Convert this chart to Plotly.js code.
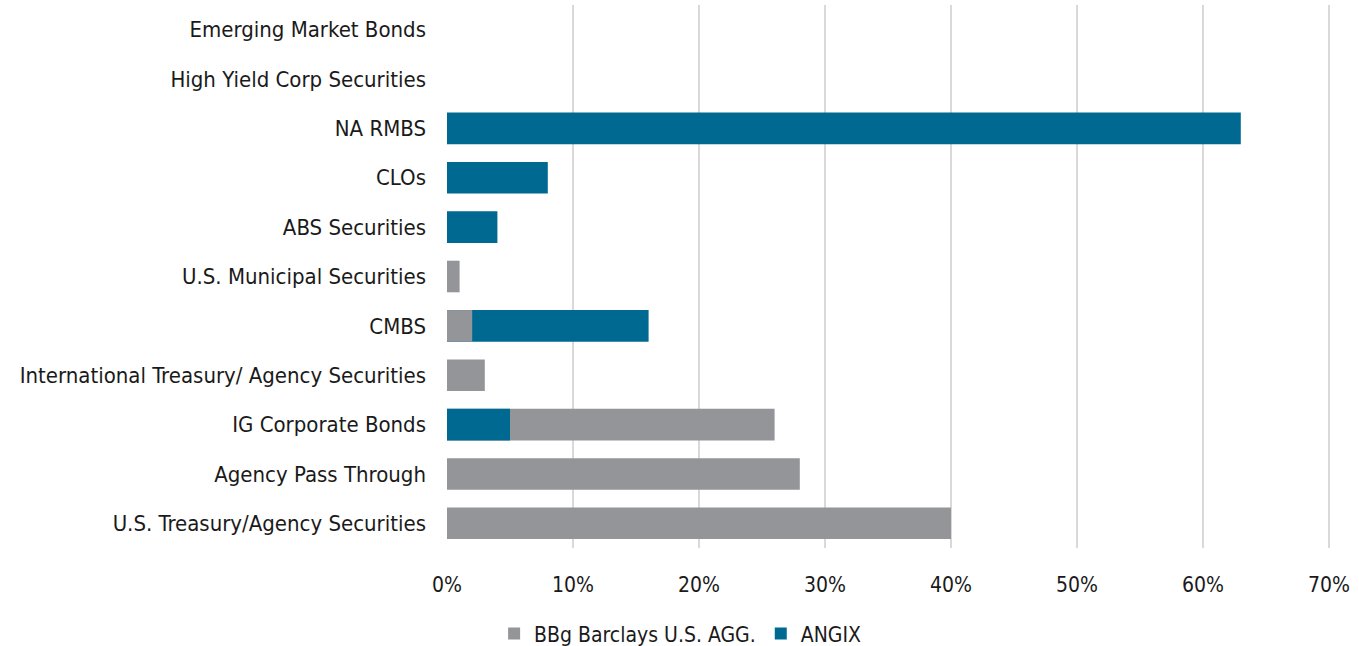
<!DOCTYPE html>
<html>
<head>
<meta charset="utf-8">
<script src="https://cdn.plot.ly/plotly-3.0.1.min.js"></script>
<style>html,body{margin:0;padding:0;background:#fff;}#chart{width:1359px;height:646px;}</style>
</head>
<body>
<div id="chart"></div>
<script>
const categories = [
  "U.S. Treasury/Agency Securities",
  "Agency Pass Through",
  "IG Corporate Bonds",
  "International Treasury/ Agency Securities",
  "CMBS",
  "U.S. Municipal Securities",
  "ABS Securities",
  "CLOs",
  "NA RMBS",
  "High Yield Corp Securities",
  "Emerging Market Bonds"
];
const aggValues =   [40, 28, 26, 3, 2, 1, 0, 0, 0, 0, 0];
const angixValues = [0, 0, 5, 0, 16, 0, 4, 8, 63, 0, 0];
const seriesNames = ["BBg Barclays U.S. AGG.", "ANGIX"];
const colors = ["#939598", "#006991"];
const tickVals = [0, 10, 20, 30, 40, 50, 60, 70];
const tickText = ["0%", "10%", "20%", "30%", "40%", "50%", "60%", "70%"];

const FONT = "'Liberation Sans Narrow', 'DejaVu Sans Condensed', 'Open Sans', sans-serif";
const series = [aggValues, angixValues];

// Overlaid bars: larger value drawn behind, smaller in front.
function pick(s, front) {
  const other = series[1 - s];
  return series[s].map((v, i) => {
    const larger = v > other[i] || (v === other[i] && s === 0);
    if (v === 0) return null;
    return (front ? !larger : larger) ? v : null;
  });
}
const traces = [];
[false, true].forEach(front => {
  [0, 1].forEach(s => {
    traces.push({
      type: 'bar', orientation: 'h',
      y: categories, x: pick(s, front),
      name: seriesNames[s],
      legendgroup: 's' + s,
      showlegend: !front,
      marker: {color: colors[s], line: {width: 0}},
      width: 0.64,
      hoverinfo: 'x+y+name'
    });
  });
});

const layout = {
  width: 1359, height: 646,
  margin: {l: 447, r: 29, t: 5, b: 98, autoexpand: false},
  barmode: 'overlay',
  paper_bgcolor: '#fff', plot_bgcolor: '#fff',
  font: {family: FONT, size: 21, color: '#1a1a1a'},
  xaxis: {
    range: [0, 70.08], tickvals: tickVals, ticktext: tickText,
    showgrid: true, gridcolor: '#d9d9d9', gridwidth: 1.5,
    zeroline: false, showline: false, ticks: '', tickangle: 0,
    ticklabelstandoff: 22,
    tickfont: {family: FONT, size: 21, color: '#1a1a1a'},
    fixedrange: true
  },
  yaxis: {
    type: 'category', categoryorder: 'array', categoryarray: categories,
    showgrid: false, zeroline: false, showline: false, ticks: '',
    ticklabelstandoff: 20,
    tickfont: {family: FONT, size: 22, color: '#1a1a1a'},
    fixedrange: true
  },
  legend: {
    orientation: 'h', x: 0.264, xanchor: 'center', xref: 'paper',
    y: -0.158, yanchor: 'middle', yref: 'paper',
    font: {family: FONT, size: 21, color: '#1a1a1a'},
    itemwidth: 30, traceorder: 'normal'
  },
  showlegend: true
};
Plotly.newPlot('chart', traces, layout, {displayModeBar: false, staticPlot: true});
</script>
</body>
</html>
